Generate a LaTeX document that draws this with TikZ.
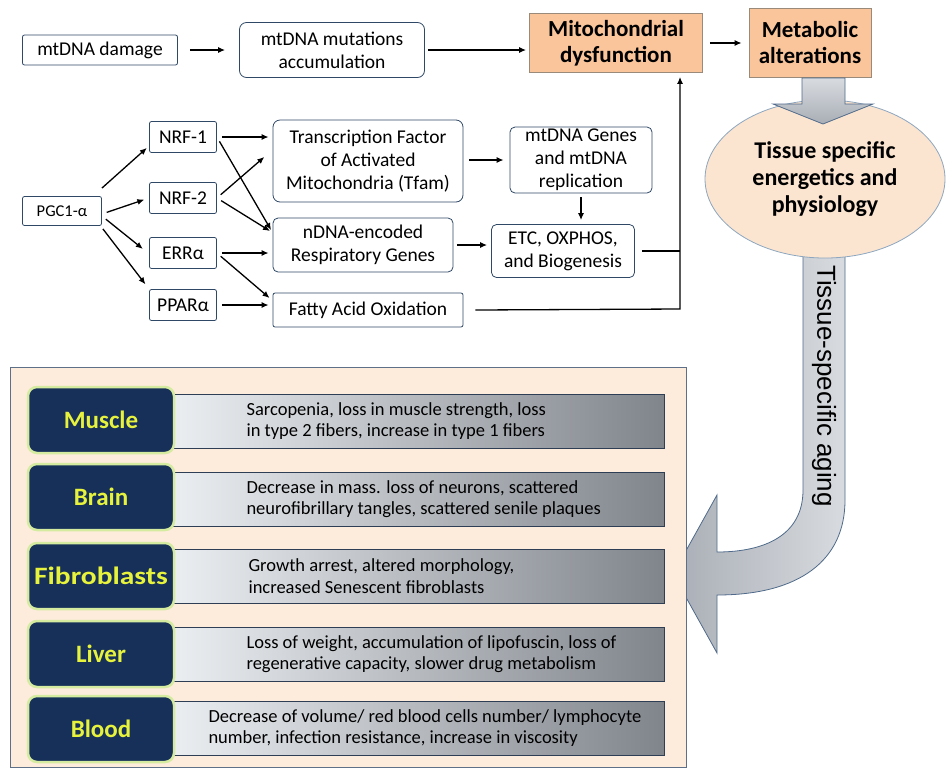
\documentclass[tikz,border=0pt]{standalone}
\usepackage{fontspec}
\setmainfont{Carlito}
\newfontfamily\arialfont{Liberation Sans}
\usetikzlibrary{arrows.meta,positioning,shapes.geometric}

\definecolor{boxline}{HTML}{2F4866}
\definecolor{hotfill}{HTML}{FAC59A}
\definecolor{hotline}{HTML}{9A8A7A}
\definecolor{ellfill}{HTML}{FCE5D0}
\definecolor{ellline}{HTML}{8DA6C0}
\definecolor{panelfill}{HTML}{FDEBDC}
\definecolor{panelline}{HTML}{5D7088}
\definecolor{organfill}{HTML}{16305A}
\definecolor{organglow}{HTML}{D5EBA0}
\definecolor{organtext}{HTML}{E6F23C}
\definecolor{barlight}{HTML}{EEF1F4}
\definecolor{bardark}{HTML}{80858C}
\definecolor{barline}{HTML}{2E3F55}
\definecolor{arrlight}{HTML}{D8DBDF}
\definecolor{arrdark}{HTML}{A9AEB6}
\definecolor{arrline}{HTML}{4F6A8A}

\newcommand\boxfont{\fontsize{19.5}{23}\selectfont}
\newcommand\hotfont{\bfseries\fontsize{23}{26}\selectfont}
\newcommand\bigfont{\bfseries\fontsize{24}{27}\selectfont}
\newcommand\organfont{\bfseries\fontsize{25}{28}\selectfont}
\newcommand\notefont{\fontsize{18.5}{21.5}\selectfont}
\newcommand\agingfont{\arialfont\fontsize{26}{28}\selectfont}

\begin{document}
\begin{tikzpicture}[x=1pt, y=-1pt,
		box/.style={draw=boxline, thick, rounded corners=5pt, fill=white, align=center, font=\boxfont, inner sep=1pt},
		hot/.style={draw=hotline, thick, fill=hotfill, align=center, font=\hotfont, inner sep=2pt},
		organ/.style={draw=organglow, line width=2.5pt, rounded corners=9pt, fill=organfill, text=organtext, font=\organfont, minimum width=146pt, minimum height=66pt},
		bar/.style={draw=barline, thick, left color=barlight, right color=bardark, minimum width=505pt, minimum height=54pt},
		note/.style={anchor=west, align=left, font=\notefont},
		link/.style={-{Latex[length=7pt,width=6pt]}, line width=1.3pt},
	]
		\useasboundingbox (0,0) rectangle (947,772);

		% upper chain
		\node (dmg) [box, rounded corners=2pt, minimum width=155pt, minimum height=30pt] at (100,50) {mtDNA damage};
		\node (mut) [box, rounded corners=7pt, minimum width=185pt, minimum height=55pt] at (332,50) {mtDNA mutations\\accumulation};
		\node (mito) [hot, minimum width=173pt, minimum height=59pt] at (616,43) {Mitochondrial\\dysfunction};
		\node (meta) [hot, minimum width=122pt, minimum height=69pt] at (810,43) {Metabolic\\alterations};

		% PGC1 network
		\node (pgc) [box, rounded corners=2pt, minimum width=79pt, minimum height=29pt, font=\fontsize{16.5}{19}\selectfont] at (62,211) {PGC1-α};
		\node (nrf1) [box, rounded corners=2pt, minimum width=67pt, minimum height=31pt] at (183,137) {NRF-1};
		\node (nrf2) [box, rounded corners=2pt, minimum width=67pt, minimum height=31pt] at (183,198) {NRF-2};
		\node (err) [box, rounded corners=2pt, minimum width=67pt, minimum height=31pt] at (183,253) {ERRα};
		\node (ppar) [box, rounded corners=2pt, minimum width=67pt, minimum height=31pt] at (183,305) {PPARα};
		\node (tfam) [box, rounded corners=7pt, minimum width=190pt, minimum height=82pt] at (368,161) {Transcription Factor\\of Activated\\Mitochondria (Tfam)};
		\node (ndna) [box, minimum width=180pt, minimum height=54pt] at (363,245) {nDNA-encoded\\Respiratory Genes};
		\node (fao) [box, rounded corners=2pt, minimum width=190pt, minimum height=34pt] at (368,310) {Fatty Acid Oxidation};
		\node (genes) [box, minimum width=142pt, minimum height=66pt] at (581,160) {mtDNA Genes\\and mtDNA\\replication};
		\node (etc) [box, minimum width=143pt, minimum height=53pt] at (563,251) {ETC, OXPHOS,\\and Biogenesis};
		\coordinate (rise) at (680,309);

		% tissue arrow
		\draw[draw=arrline, thick, left color=arrdark, right color=arrlight] (803,240) -- (803,490) .. controls (803,535) and (765,552) .. (717,552) -- (717,495) -- (673,574) -- (717,653) -- (717,595) .. controls (800,595) and (845,560) .. (845,500) -- (845,240) -- cycle;
		\node (aging) [rotate=-90, font=\agingfont] at (824,386) {Tissue-specific aging};
		\node (tissue) [ellipse, draw=ellline, thick, fill=ellfill, minimum width=240pt, minimum height=158pt, font=\bigfont, align=center] at (825,179) {Tissue specific\\energetics and\\physiology};
		\draw[draw=arrline, thick, top color=arrlight, bottom color=arrdark] (802,78) -- (845,78) -- (845,104) -- (873,104) -- (823,124) -- (773,104) -- (802,104) -- cycle;

		\draw[link, shorten <=12pt, shorten >=14pt] (dmg) -- (mut);
		\draw[link, shorten <=3pt, shorten >=3pt] (mut.east) -- (mut.east -| mito.west);
		\draw[link, shorten <=7pt, shorten >=7pt] (mito) -- (meta);

		\draw[link, shorten >=3pt] ([yshift=8pt]pgc.north east) -- ([yshift=7pt]nrf1.south west);
		\draw[link, shorten <=5pt, shorten >=5pt] ([yshift=-3pt]pgc.east) -- (nrf2.west);
		\draw[link, shorten <=5pt, shorten >=8pt] ([yshift=-5pt]pgc.east) -- ([yshift=15pt]err.south west);
		\draw[link, shorten >=6pt] ([xshift=1pt,yshift=-3pt]pgc.south east) -- (ppar.north west);

		\draw[link, shorten <=5pt, shorten >=4pt] (nrf1.east) -- (nrf1.east -| tfam.west);
		\draw[link, shorten <=5pt, shorten >=3pt] (nrf1.east) -- ([yshift=-15pt]ndna.north west);
		\draw[link, shorten <=5pt, shorten >=3pt] (nrf2.east) -- ([xshift=-6pt,yshift=6pt]tfam.west);
		\draw[link, shorten <=5pt, shorten >=3pt] (nrf2.east) -- ([yshift=-15pt]ndna.north west);
		\draw[link, shorten <=5pt, shorten >=4pt] (err.east) -- (err.east -| ndna.west);
		\draw[link, shorten <=5pt, shorten >=4pt] (err.east) -- ([yshift=-8pt]fao.north west);
		\draw[link, shorten <=5pt, shorten >=4pt] (ppar.east) -- (ppar.east -| fao.west);
		\draw[link, shorten <=6pt, shorten >=6pt] (tfam.east |- genes.west) -- (genes.west);
		\draw[link, shorten <=4pt, shorten >=4pt] (ndna.east) -- (ndna.east -| etc.west);
		\draw[link, shorten <=4pt, shorten >=4pt] (genes.south) -- (genes.south |- etc.north);
		\draw[line width=1.3pt, shorten <=7pt] (etc.east) -- (etc.east -| rise);
		\draw[link, shorten >=4pt] ([xshift=12pt]fao.east) -- (rise) -- (rise |- mito.south);

		% tissue panel
		\node (panel) [draw=panelline, thick, fill=panelfill, minimum width=676pt, minimum height=400pt] at (348,567) {};
		\node (musclebar) [bar] at (412,421) {};
		\node (brainbar) [bar] at (412,499) {};
		\node (fibrobar) [bar] at (412,576) {};
		\node (liverbar) [bar] at (412,654) {};
		\node (bloodbar) [bar] at (412,728) {};
		\node (muscle) [organ] at (101,420) {Muscle};
		\node (brain) [organ] at (101,497) {Brain};
		\node (fibro) [organ] at (101,576) {\scalebox{1.18}[1]{Fibroblasts}};
		\node (liver) [organ] at (101,654) {Liver};
		\node (blood) [organ] at (101,729) {Blood};
		\node [note] at (243,421) {Sarcopenia, loss in muscle strength, loss\\in type 2 fibers, increase in type 1 fibers};
		\node [note] at (243,499) {Decrease in mass. loss of neurons, scattered\\neurofibrillary tangles, scattered senile plaques};
		\node [note] at (245,576) {Growth arrest, altered morphology,\\increased Senescent fibroblasts};
		\node [note] at (243,654) {Loss of weight, accumulation of lipofuscin, loss of\\regenerative capacity, slower drug metabolism};
		\node [note] at (205,728) {Decrease of volume/ red blood cells number/ lymphocyte\\number, infection resistance, increase in viscosity};
	\end{tikzpicture}
\end{document}
